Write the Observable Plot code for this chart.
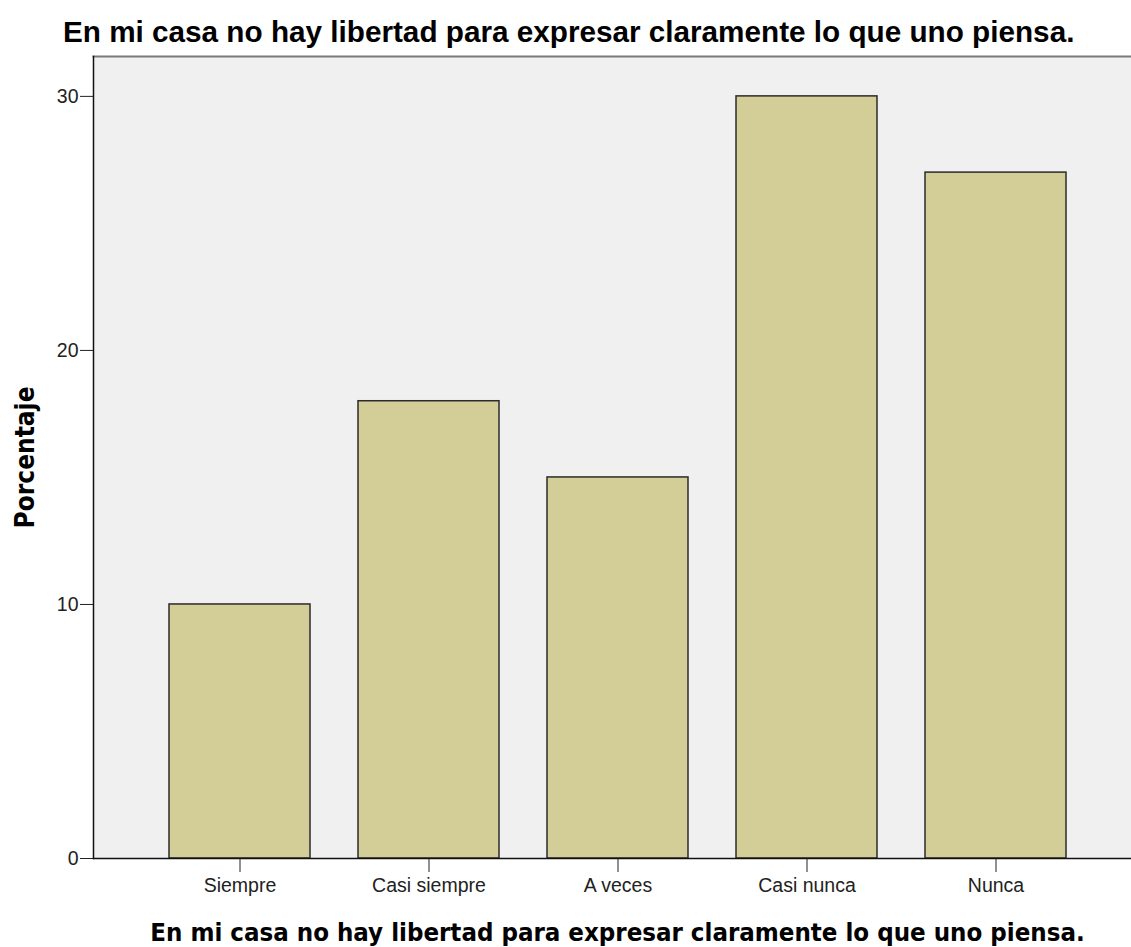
<!DOCTYPE html>
<html><head><meta charset="utf-8">
<script src="https://cdn.jsdelivr.net/npm/d3@7"></script>
<script src="https://cdn.jsdelivr.net/npm/@observablehq/plot@0.6"></script>
<style>
body{margin:0;background:#fff;}
#wrap{position:relative;width:1131px;height:947px;overflow:hidden;}
#title{position:absolute;left:63px;top:17px;font:bold 29.7px "Liberation Sans",Arial,sans-serif;line-height:1;color:#000;white-space:nowrap;}
#chart{position:absolute;left:0;top:0;}
</style>
</head><body>
<div id="wrap"><div id="chart"></div><div id="title"></div></div>
<script>
const chartTitle = "En mi casa no hay libertad para expresar claramente lo que uno piensa.";
const xTitle = "En mi casa no hay libertad para expresar claramente lo que uno piensa.";
const yTitle = "Porcentaje";
const categories = ["Siempre","Casi siempre","A veces","Casi nunca","Nunca"];
const percentages = [10,18,15,30,27];
const yTicks = [0,10,20,30];
const yMax = 31.57;

document.getElementById("title").textContent = chartTitle;
const data = categories.map((c,i)=>({cat:c, pct:percentages[i]}));

const chart = Plot.plot({
  width:1131, height:947, marginTop:56, marginBottom:89, marginLeft:93, marginRight:0,
  style:{background:"transparent", fontFamily:"'Liberation Sans', Arial, sans-serif", fontSize:"19.5px", color:"#222"},
  x:{domain:categories, range:[93,1141], paddingInner:0.254, paddingOuter:0.397},
  y:{domain:[0,yMax]},
  marks:[
    Plot.frame({fill:"#f0f0f0", stroke:null}),
    Plot.frame({anchor:"top", stroke:"#7a7a7a", strokeWidth:2}),
    Plot.barY(data,{x:"cat", y:"pct", fill:"#d3ce97", stroke:"#2b2b2b", strokeWidth:1.5}),
    Plot.frame({anchor:"left", stroke:"#111", strokeWidth:1.5}),
    Plot.frame({anchor:"bottom", stroke:"#111", strokeWidth:1.5}),
    Plot.axisY({ticks:yTicks, tickSize:13, tickPadding:2, label:null, tickFormat:d=>String(d)}),
    Plot.axisX({tickSize:14, tickPadding:6, label:null}),
    Plot.text([yTitle],{frameAnchor:"left", textAnchor:"middle", lineAnchor:"middle", dx:-68, rotate:-90, fontWeight:"bold", fontSize:26, fontFamily:"'DejaVu Sans Condensed', 'DejaVu Sans', sans-serif", fill:"#000"}),
    Plot.text([xTitle],{frameAnchor:"bottom", textAnchor:"middle", lineAnchor:"middle", dx:5, dy:74, fontWeight:"bold", fontSize:25.6, fontFamily:"'DejaVu Sans Condensed', 'DejaVu Sans', sans-serif", fill:"#000"})
  ]
});
document.getElementById("chart").appendChild(chart);
</script>
</body></html>
